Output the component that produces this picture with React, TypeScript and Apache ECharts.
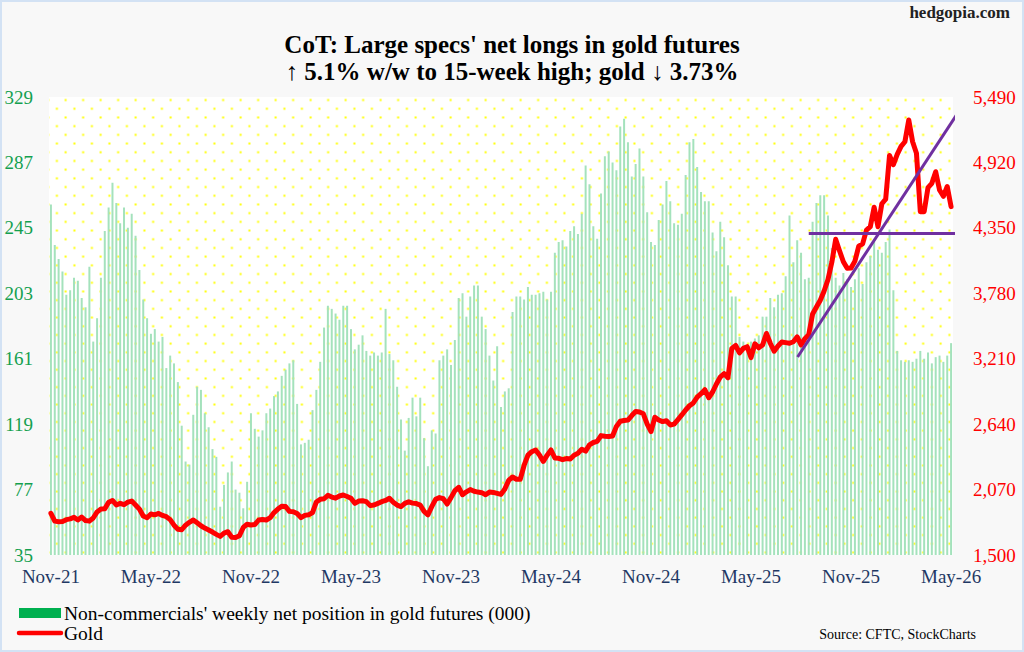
import React, { useEffect, useRef } from "react";
import * as echarts from "echarts";

// ---- data ----
// Non-commercials' weekly net position in gold futures (000), weekly from Nov-2021
const netLongs: number[] = [
  260, 234, 225, 217, 202, 205, 213, 211, 200, 194,
  220, 172, 187, 213, 243, 258, 274, 261, 248, 258,
  245, 254, 240, 218, 199, 187, 177, 180, 172, 175,
  155, 163, 158, 146, 118, 95, 93, 125, 143, 141,
  126, 117, 103, 98, 66, 80, 88, 95, 77, 75,
  65, 82, 126, 116, 111, 115, 126, 129, 137, 140,
  150, 154, 158, 160, 132, 106, 107, 109, 128, 141,
  159, 181, 195, 193, 190, 186, 195, 195, 180, 167,
  170, 176, 166, 163, 165, 163, 165, 193, 164, 160,
  143, 122, 102, 123, 136, 124, 136, 110, 92, 115,
  113, 160, 163, 167, 157, 173, 200, 203, 188, 201,
  208, 208, 188, 180, 163, 147, 169, 130, 140, 142,
  191, 201, 201, 199, 207, 202, 202, 203, 204, 199,
  204, 229, 236, 237, 233, 243, 246, 241, 254, 285,
  273, 246, 238, 267, 291, 294, 287, 282, 310, 315,
  300, 278, 286, 296, 278, 255, 236, 234, 250, 260,
  275, 262, 248, 247, 254, 279, 300, 302, 284, 268,
  262, 262, 242, 230, 249, 239, 221, 201, 201, 175,
  172, 170, 172, 174, 176, 188, 188, 200, 194, 202,
  203, 214, 253, 223, 237, 229, 212, 213, 249, 261,
  266, 266, 253, 232, 213, 208, 216, 212, 207, 212,
  219, 209, 223, 227, 236, 231, 229, 236, 244, 205,
  166, 160, 159, 160, 159, 161, 166, 161, 165, 158,
  162, 163, 159, 163, 171,
];

// Gold price, weekly
const goldPrice: number[] = [
  1863, 1795, 1790, 1792, 1808, 1815, 1828, 1805, 1830, 1800,
  1795, 1822, 1875, 1900, 1902, 1960, 1975, 1936, 1950, 1938,
  1960, 1970, 1936, 1900, 1840, 1825, 1857, 1850, 1862, 1845,
  1834, 1808, 1760, 1725, 1720, 1760, 1785, 1805, 1780, 1755,
  1735, 1718, 1700, 1680, 1662, 1690, 1703, 1655, 1652, 1668,
  1740, 1768, 1762, 1765, 1805, 1810, 1805, 1825, 1870, 1900,
  1925, 1922, 1880, 1877, 1862, 1825, 1845, 1850, 1870, 1962,
  1985, 1990, 2020, 2005, 1995, 2014, 2023, 2010, 1995, 1950,
  1970, 1973, 1965, 1930, 1936, 1950, 1964, 1975, 1994, 1960,
  1935, 1922, 1950, 1964, 1952, 1948, 1935, 1880, 1850, 1921,
  1985, 2000, 1990, 1944, 2000, 2060, 2090, 2025, 2050, 2070,
  2055, 2048, 2043, 2025, 2048, 2045, 2037, 2028, 2075, 2150,
  2180, 2160, 2159, 2280, 2370, 2400, 2415, 2371, 2315, 2370,
  2415, 2345, 2342, 2330, 2340, 2336, 2370, 2386, 2421, 2405,
  2460, 2480, 2490, 2540, 2535, 2532, 2537, 2620, 2665, 2672,
  2676, 2715, 2750, 2745, 2730, 2640, 2575, 2700, 2676, 2662,
  2670, 2633, 2640, 2680, 2720, 2763, 2800, 2825, 2875, 2905,
  2940, 2870, 2920, 2990, 3050, 3080, 3045, 3300, 3325, 3260,
  3300, 3315, 3220, 3340, 3305, 3330, 3430, 3345, 3275, 3320,
  3355, 3350, 3345, 3358, 3400, 3330, 3385, 3420, 3600, 3660,
  3720, 3800, 3900, 4050, 4250, 4150, 4055, 3998, 4000, 4060,
  4190, 4210, 4330, 4360, 4530, 4360, 4560, 4600, 4980, 4900,
  4990, 5060, 5100, 5290, 5100, 5000, 4491, 4491, 4700, 4738,
  4839, 4680, 4625, 4710, 4535,
];

// x tick labels, one every 26 weeks
const xTickLabels: string[] = [
  "Nov-21", "May-22", "Nov-22", "May-23", "Nov-23",
  "May-24", "Nov-24", "May-25", "Nov-25", "May-26",
];
const xTickEvery = 26;
const leftTicks: number[] = [35, 77, 119, 161, 203, 245, 287, 329];
const rightTicks: number[] = [1500, 2070, 2640, 3210, 3780, 4350, 4920, 5490];

// hand-drawn trend lines (week index, gold price)
const trendRising: number[][] = [[194.1, 3225], [236.1, 5368]];
const trendFlat: number[][] = [[197, 4300], [237.9, 4300]];

const weekCategories: string[] = netLongs.map((_, i) =>
  new Date(Date.UTC(2021, 10, 2) + i * 7 * 86400000).toISOString().slice(0, 10)
);

const FONT = "'Liberation Serif', 'Times New Roman', serif";
const BAR_NAME = "Non-commercials' weekly net position in gold futures (000)";

const GRID = { left: 49, top: 97, width: 904, height: 458 };

const tileSvg =
  '<svg xmlns="http://www.w3.org/2000/svg" width="17.5" height="17.4" viewBox="0 0 17.5 17.4">' +
  '<rect width="17.5" height="17.4" fill="#ffffff"/>' +
  '<rect x="3.4" y="3.35" width="2" height="2" fill="#ffff00"/>' +
  '<rect x="12.15" y="12.05" width="2" height="2" fill="#ffff00"/>' +
  "</svg>";

export default function App() {
  const ref = useRef<HTMLDivElement>(null);

  useEffect(() => {
    document.body.style.margin = "0";
    if (!ref.current) return;
    const chart = echarts.init(ref.current, undefined, { renderer: "svg" });

    const dotPattern: any = {
      image: "data:image/svg+xml;charset=utf-8," + encodeURIComponent(tileSvg),
      repeat: "repeat",
      imageWidth: 17.5,
      imageHeight: 17.4,
      x: 47.9,
      y: 97.95,
    };

    const option: any = {
      animation: false,
      backgroundColor: "#f8f8f8",
      title: {
        text: "CoT: Large specs' net longs in gold futures\n\u2191 5.1% w/w to 15-week high; gold \u2193 3.73%",
        left: "center",
        top: 26,
        textStyle: {
          fontFamily: FONT,
          fontWeight: "bold",
          fontSize: 25,
          lineHeight: 27,
          color: "#000",
        },
      },
      grid: {
        ...GRID,
        show: true,
        borderWidth: 0,
        backgroundColor: dotPattern,
        containLabel: false,
      },
      xAxis: [
        {
          type: "category",
          data: weekCategories,
          boundaryGap: true,
          axisLine: { show: false },
          axisTick: { show: false },
          splitLine: { show: false },
          axisLabel: {
            interval: (index: number) => index % xTickEvery === 0,
            formatter: (_v: string, index: number) =>
              index % xTickEvery === 0 ? xTickLabels[index / xTickEvery] ?? "" : "",
            color: "#1f3864",
            fontFamily: FONT,
            fontSize: 19,
            margin: 12,
          },
        },
        {
          type: "value",
          min: -0.5,
          max: netLongs.length - 0.5,
          show: false,
        },
      ],
      yAxis: [
        {
          type: "value",
          min: leftTicks[0],
          max: leftTicks[leftTicks.length - 1],
          splitLine: { show: false },
          axisLine: { show: false },
          axisTick: { show: false },
          axisLabel: {
            customValues: leftTicks,
            color: "#14a04f",
            fontFamily: FONT,
            fontSize: 19,
            margin: 16,
          },
        },
        {
          type: "value",
          position: "right",
          min: rightTicks[0],
          max: rightTicks[rightTicks.length - 1],
          splitLine: { show: false },
          axisLine: { show: false },
          axisTick: { show: false },
          axisLabel: {
            customValues: rightTicks,
            formatter: (v: number) => v.toLocaleString("en-US"),
            color: "#ff0000",
            fontFamily: FONT,
            fontSize: 19,
            margin: 20,
          },
        },
      ],
      series: [
        {
          name: BAR_NAME,
          type: "bar",
          xAxisIndex: 0,
          yAxisIndex: 0,
          data: netLongs,
          barWidth: 2,
          itemStyle: { color: "#a4e2bc" },
          clip: true,
          silent: true,
        },
        {
          name: "Gold",
          type: "line",
          xAxisIndex: 0,
          yAxisIndex: 1,
          data: goldPrice,
          symbol: "none",
          lineStyle: { color: "#ff0000", width: 5, join: "round", cap: "round" },
          silent: true,
          z: 3,
        },
        {
          name: "trend-rising",
          type: "line",
          xAxisIndex: 1,
          yAxisIndex: 1,
          data: trendRising,
          symbol: "none",
          clip: false,
          lineStyle: { color: "#7030a0", width: 3 },
          silent: true,
          z: 4,
        },
        {
          name: "trend-flat",
          type: "line",
          xAxisIndex: 1,
          yAxisIndex: 1,
          data: trendFlat,
          symbol: "none",
          clip: false,
          lineStyle: { color: "#7030a0", width: 3 },
          silent: true,
          z: 4,
        },
      ],
      graphic: [
        {
          type: "rect",
          shape: { x: 1, y: 1, width: 1022, height: 650 },
          style: { fill: "none", stroke: "#d3e2f4", lineWidth: 2 },
          silent: true,
        },
        {
          type: "text",
          right: 14,
          top: 4,
          style: {
            text: "hedgopia.com",
            fontFamily: FONT,
            fontWeight: "bold",
            fontSize: 17,
            fill: "#222",
          },
        },
        {
          type: "rect",
          shape: { x: 19, y: 608, width: 42, height: 10 },
          style: { fill: "#00b050" },
        },
        {
          type: "line",
          shape: { x1: 19, y1: 633, x2: 61, y2: 633 },
          style: { stroke: "#ff0000", lineWidth: 4.5, lineCap: "round" },
        },
        {
          type: "text",
          x: 64,
          y: 613,
          style: {
            text: BAR_NAME,
            fontFamily: FONT,
            fontSize: 19.5,
            fill: "#000",
            verticalAlign: "middle",
          },
        },
        {
          type: "text",
          x: 64,
          y: 633,
          style: {
            text: "Gold",
            fontFamily: FONT,
            fontSize: 19.5,
            fill: "#000",
            verticalAlign: "middle",
          },
        },
        {
          type: "text",
          x: 976,
          y: 634,
          style: {
            text: "Source: CFTC, StockCharts",
            fontFamily: FONT,
            fontSize: 14,
            fill: "#000",
            align: "right",
            verticalAlign: "middle",
          },
        },
      ],
    };

    chart.setOption(option);
    return () => chart.dispose();
  }, []);

  return <div ref={ref} style={{ width: 1024, height: 652 }} />;
}
